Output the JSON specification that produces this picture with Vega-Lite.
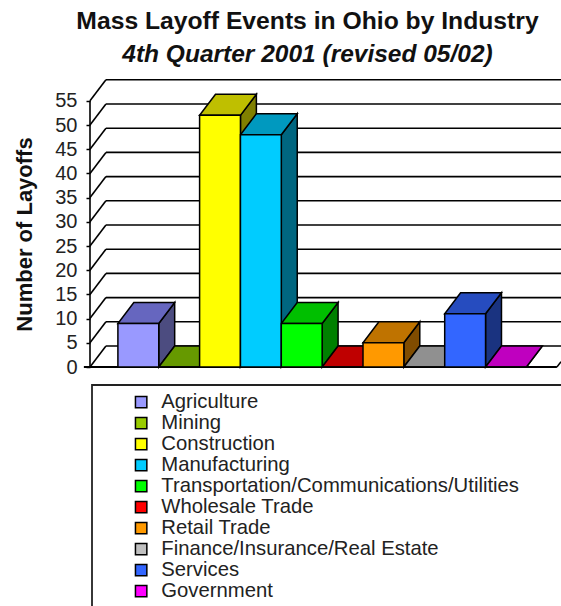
{
"$schema":"https://vega.github.io/schema/vega-lite/v6.json",
"width":471,"height":287,
"autosize":{"type":"none"},
"padding":{"left":90,"top":80,"right":0,"bottom":239},
"background":"white",
"title":{"text":"Mass Layoff Events in Ohio by Industry","subtitle":"4th Quarter 2001 (revised 05/02)","anchor":"middle","dx":-18,"offset":13,"font":"Liberation Sans","fontSize":24.7,"fontWeight":"bold","color":"#111111","subtitleFont":"Liberation Sans","subtitleFontSize":24.5,"subtitleFontStyle":"italic","subtitleFontWeight":"bold","subtitleColor":"#111111","subtitlePadding":9},
"datasets":{
"bars":[
{"industry":"Agriculture","order":0,"layoffs":9},
{"industry":"Mining","order":1,"layoffs":0},
{"industry":"Construction","order":2,"layoffs":52},
{"industry":"Manufacturing","order":3,"layoffs":48},
{"industry":"Transportation/Communications/Utilities","order":4,"layoffs":9},
{"industry":"Wholesale Trade","order":5,"layoffs":0},
{"industry":"Retail Trade","order":6,"layoffs":5},
{"industry":"Finance/Insurance/Real Estate","order":7,"layoffs":0},
{"industry":"Services","order":8,"layoffs":11},
{"industry":"Government","order":9,"layoffs":0}
],
"ticks":[{"tick":0},{"tick":5},{"tick":10},{"tick":15},{"tick":20},{"tick":25},{"tick":30},{"tick":35},{"tick":40},{"tick":45},{"tick":50},{"tick":55}]
},
"layer":[
{"data":{"name":"ticks"},
 "transform":[{"calculate":"datum.tick+4.34","as":"back"},{"calculate":"0.39","as":"xb"},{"calculate":"0","as":"x0"}],
 "mark":{"type":"rule","color":"black","strokeWidth":1.6},
 "encoding":{"x":{"field":"x0","type":"quantitative","scale":{"domain":[0,11.53],"range":[0,471],"nice":false,"zero":false},"axis":null},
  "x2":{"field":"xb"},
  "y":{"field":"tick","type":"quantitative","scale":{"domain":[0,59.3],"range":[287,0],"nice":false,"zero":false},
   "axis":{"values":[0,5,10,15,20,25,30,35,40,45,50,55],"title":"Number of Layoffs"}},
  "y2":{"field":"back"}}},
{"data":{"name":"ticks"},
 "transform":[{"calculate":"datum.tick+4.34","as":"back"},{"calculate":"0.39","as":"xb"},{"calculate":"11.53","as":"xe"}],
 "mark":{"type":"rule","color":"black","strokeWidth":1.6},
 "encoding":{"x":{"field":"xb","type":"quantitative","axis":null},"x2":{"field":"xe"},"y":{"field":"back","type":"quantitative","axis":{"values":[0,5,10,15,20,25,30,35,40,45,50,55],"title":"Number of Layoffs"}}}},
{"data":{"name":"ticks"},
 "transform":[{"filter":"datum.tick==55"},{"calculate":"0","as":"x0"},{"calculate":"0","as":"y0"}],
 "mark":{"type":"rule","color":"black","strokeWidth":1.6},
 "encoding":{"x":{"field":"x0","type":"quantitative","axis":null},"y":{"field":"tick","type":"quantitative","axis":{"values":[0,5,10,15,20,25,30,35,40,45,50,55],"title":"Number of Layoffs"}},"y2":{"field":"y0"}}},
{"data":{"name":"ticks"},
 "transform":[{"filter":"datum.tick==0"},{"calculate":"-0.15","as":"xs"},{"calculate":"11.43","as":"xe"}],
 "mark":{"type":"rule","color":"black","strokeWidth":1.8,"clip":false},
 "encoding":{"x":{"field":"xs","type":"quantitative","axis":null},"x2":{"field":"xe"},"y":{"field":"tick","type":"quantitative","axis":{"values":[0,5,10,15,20,25,30,35,40,45,50,55],"title":"Number of Layoffs"}}}},
{"data":{"name":"ticks"},
 "transform":[{"filter":"datum.tick==0"},{"calculate":"11.43","as":"xs"},{"calculate":"11.53","as":"xe"},{"calculate":"1.1","as":"ye"}],
 "mark":{"type":"rule","color":"black","strokeWidth":1.5},
 "encoding":{"x":{"field":"xs","type":"quantitative","axis":null},"x2":{"field":"xe"},"y":{"field":"tick","type":"quantitative","axis":{"values":[0,5,10,15,20,25,30,35,40,45,50,55],"title":"Number of Layoffs"}},"y2":{"field":"ye"}}},
{"data":{"name":"ticks"},
 "transform":[{"filter":"datum.tick==0"},{"calculate":"0.049","as":"bx0"},{"calculate":"13","as":"bx1"},{"calculate":"-3.72","as":"by0"},{"calculate":"-60","as":"by1"}],
 "mark":{"type":"rect","fill":"white","stroke":"#222222","strokeWidth":1.8,"clip":false},
 "encoding":{"x":{"field":"bx0","type":"quantitative","axis":null},"x2":{"field":"bx1"},"y":{"field":"by0","type":"quantitative","axis":{"values":[0,5,10,15,20,25,30,35,40,45,50,55],"title":"Number of Layoffs"}},"y2":{"field":"by1"}}},
{"data":{"name":"bars"},
 "transform":[{"calculate":"[0,1]","as":"t"},{"flatten":["t"]},{"calculate":"datum.order+1.683+0.39*datum.t","as":"sx"},{"calculate":"4.34*datum.t","as":"sy0"},{"calculate":"datum.layoffs+4.34*datum.t","as":"sy1"}],
 "mark":{"type":"area","stroke":"black","strokeWidth":1.5,"opacity":1},
 "encoding":{"x":{"field":"sx","type":"quantitative","axis":null},"y":{"field":"sy1","type":"quantitative","axis":{"values":[0,5,10,15,20,25,30,35,40,45,50,55],"title":"Number of Layoffs"}},"y2":{"field":"sy0"},
  "color":{"field":"industry","type":"nominal","legend":null,"scale":{"domain":["Agriculture","Mining","Construction","Manufacturing","Transportation/Communications/Utilities","Wholesale Trade","Retail Trade","Finance/Insurance/Real Estate","Services","Government"],"range":["#4C4C80","#4D6600","#808000","#006680","#008000","#800000","#804C00","#606060","#1A3380","#800080"]}}}},
{"data":{"name":"bars"},
 "transform":[{"calculate":"[0,1]","as":"t"},{"flatten":["t"]},{"calculate":"datum.order+0.683+0.39*datum.t","as":"tx0"},{"calculate":"datum.order+1.683+0.39*datum.t","as":"tx1"},{"calculate":"datum.layoffs+4.34*datum.t","as":"ty"}],
 "mark":{"type":"area","orient":"horizontal","stroke":"black","strokeWidth":1.5,"opacity":1},
 "encoding":{"y":{"field":"ty","type":"quantitative","axis":{"values":[0,5,10,15,20,25,30,35,40,45,50,55],"title":"Number of Layoffs"}},"x":{"field":"tx0","type":"quantitative","axis":null},"x2":{"field":"tx1"},
  "color":{"field":"industry","type":"nominal","legend":null,"scale":{"domain":["Agriculture","Mining","Construction","Manufacturing","Transportation/Communications/Utilities","Wholesale Trade","Retail Trade","Finance/Insurance/Real Estate","Services","Government"],"range":["#6666BF","#669900","#BFBF00","#0099BF","#00BF00","#BF0000","#BF7300","#909090","#264CBF","#BF00BF"]}}}},
{"data":{"name":"bars"},
 "transform":[{"calculate":"datum.order+0.683","as":"fx0"},{"calculate":"datum.order+1.683","as":"fx1"},{"calculate":"0","as":"base"}],
 "mark":{"type":"rect","stroke":"black","strokeWidth":1.5,"opacity":1},
 "encoding":{"x":{"field":"fx0","type":"quantitative","axis":null},"x2":{"field":"fx1"},"y":{"field":"layoffs","type":"quantitative","axis":{"values":[0,5,10,15,20,25,30,35,40,45,50,55],"title":"Number of Layoffs"}},"y2":{"field":"base"},
  "color":{"field":"industry","type":"nominal","sort":null,"scale":{"domain":["Agriculture","Mining","Construction","Manufacturing","Transportation/Communications/Utilities","Wholesale Trade","Retail Trade","Finance/Insurance/Real Estate","Services","Government"],"range":["#9999FF","#99CC00","#FFFF00","#00CCFF","#00FF00","#FF0000","#FF9900","#C0C0C0","#3366FF","#FF00FF"]},
  "legend":{"orient":"none","legendX":41,"legendY":312,"title":null,"direction":"vertical","columns":1,"padding":0,"symbolType":"square","symbolSize":130,"symbolStrokeColor":"black","symbolStrokeWidth":1.5,"symbolOpacity":1,"labelFont":"Liberation Sans","labelFontSize":20.3,"labelColor":"#222222","labelOffset":10,"rowPadding":-1.3,"labelLimit":500}}}}
],
"resolve":{"scale":{"color":"independent"}},
"config":{"view":{"stroke":null},
 "axisY":{"titleFont":"Liberation Sans","titleFontSize":22,"titleFontWeight":"bold","titleColor":"#111111","titleX":-54,"titleY":154,"labelFont":"Liberation Sans","labelFontSize":20,"labelColor":"#222222","labelPadding":9,"tickColor":"black","tickSize":4,"tickWidth":1.5,"domain":false,"grid":false,"labelOverlap":false,"labelFlush":false}}
}
